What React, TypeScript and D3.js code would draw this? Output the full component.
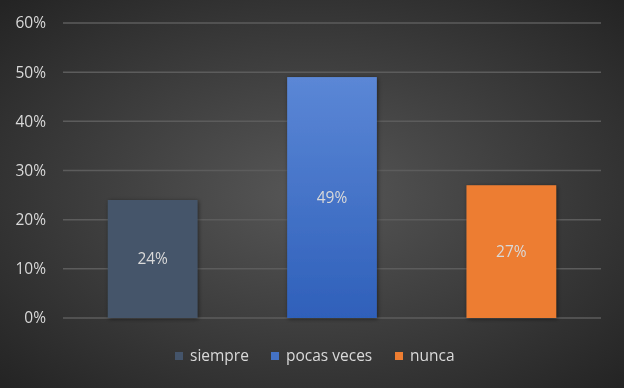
import React, { useRef, useEffect } from 'react';
import * as d3 from 'd3';

const categories = ['siempre', 'pocas veces', 'nunca'];
const values = [0.24, 0.49, 0.27];
const colors = ['#44546a', '#4472c4', '#ed7d31'];
const yTicks = [0, 0.1, 0.2, 0.3, 0.4, 0.5, 0.6];

const App: React.FC = () => {
  const svgRef = useRef<SVGSVGElement>(null);

  useEffect(() => {
    const width = 624;
    const height = 388;
    const margin = { top: 23, right: 23, bottom: 70, left: 63 };
    const font = "'Open Sans', 'Noto Sans', sans-serif";
    const fontSize = 15.5;

    const svg = d3.select(svgRef.current);
    svg.selectAll('*').remove();
    svg.attr('width', width).attr('height', height);

    const defs = svg.append('defs');
    // fondo con degradado radial
    const bg = defs.append('radialGradient')
      .attr('id', 'bg')
      .attr('cx', '50%').attr('cy', '50%').attr('r', '70%');
    bg.append('stop').attr('offset', '0%').attr('stop-color', '#575757');
    bg.append('stop').attr('offset', '100%').attr('stop-color', '#242424');

    const blue = defs.append('linearGradient')
      .attr('id', 'blueGrad')
      .attr('x1', 0).attr('y1', 0).attr('x2', 0).attr('y2', 1);
    blue.append('stop').attr('offset', '0%').attr('stop-color', '#5b87d6');
    blue.append('stop').attr('offset', '100%').attr('stop-color', '#2f60ba');

    const shadow = defs.append('filter').attr('id', 'shadow')
      .attr('x', '-20%').attr('y', '-20%').attr('width', '140%').attr('height', '140%');
    shadow.append('feDropShadow')
      .attr('dx', 1).attr('dy', 1).attr('stdDeviation', 2)
      .attr('flood-color', '#000').attr('flood-opacity', 0.5);

    svg.append('rect')
      .attr('width', width).attr('height', height)
      .attr('fill', 'url(#bg)');

    const x = d3.scaleBand<string>()
      .domain(categories)
      .range([margin.left, width - margin.right])
      .paddingInner(0.5)
      .paddingOuter(0.25);

    const y = d3.scaleLinear()
      .domain([0, 0.6])
      .range([height - margin.bottom, margin.top]);

    // líneas de cuadrícula
    svg.append('g')
      .selectAll('line')
      .data(yTicks)
      .join('line')
      .attr('x1', margin.left)
      .attr('x2', width - margin.right)
      .attr('y1', d => y(d))
      .attr('y2', d => y(d))
      .attr('stroke', '#5c5c5c')
      .attr('stroke-width', 1.5);

    svg.append('g')
      .selectAll('text')
      .data(yTicks)
      .join('text')
      .attr('x', 46)
      .attr('y', d => y(d))
      .attr('dy', '0.35em')
      .attr('text-anchor', 'end')
      .attr('font-family', font)
      .attr('font-size', fontSize)
      .attr('fill', '#d9d9d9')
      .text(d => d3.format('.0%')(d));

    const fills = ['#44546a', 'url(#blueGrad)', '#ed7d31'];

    svg.append('g')
      .selectAll('rect')
      .data(values)
      .join('rect')
      .attr('x', (_, i) => x(categories[i])!)
      .attr('y', d => y(d))
      .attr('width', x.bandwidth())
      .attr('height', d => y(0) - y(d))
      .attr('fill', (_, i) => fills[i])
      .attr('filter', 'url(#shadow)');

    svg.append('g')
      .selectAll('text')
      .data(values)
      .join('text')
      .attr('x', (_, i) => x(categories[i])! + x.bandwidth() / 2)
      .attr('y', d => (y(d) + y(0)) / 2)
      .attr('dy', '0.35em')
      .attr('text-anchor', 'middle')
      .attr('font-family', font)
      .attr('font-size', fontSize)
      .attr('fill', '#d9d9d9')
      .text(d => d3.format('.0%')(d));

    // leyenda
    const legendX = [175, 271, 395];
    const legend = svg.append('g');
    categories.forEach((c, i) => {
      legend.append('rect')
        .attr('x', legendX[i])
        .attr('y', 352)
        .attr('width', 8)
        .attr('height', 8)
        .attr('fill', colors[i]);
      legend.append('text')
        .attr('x', legendX[i] + 15)
        .attr('y', 356)
        .attr('dy', '0.35em')
        .attr('font-family', font)
        .attr('font-size', fontSize)
        .attr('fill', '#d9d9d9')
        .text(c);
    });
  }, []);

  return <svg ref={svgRef} style={{ position: 'fixed', left: 0, top: 0 }} />;
};

export default App;
